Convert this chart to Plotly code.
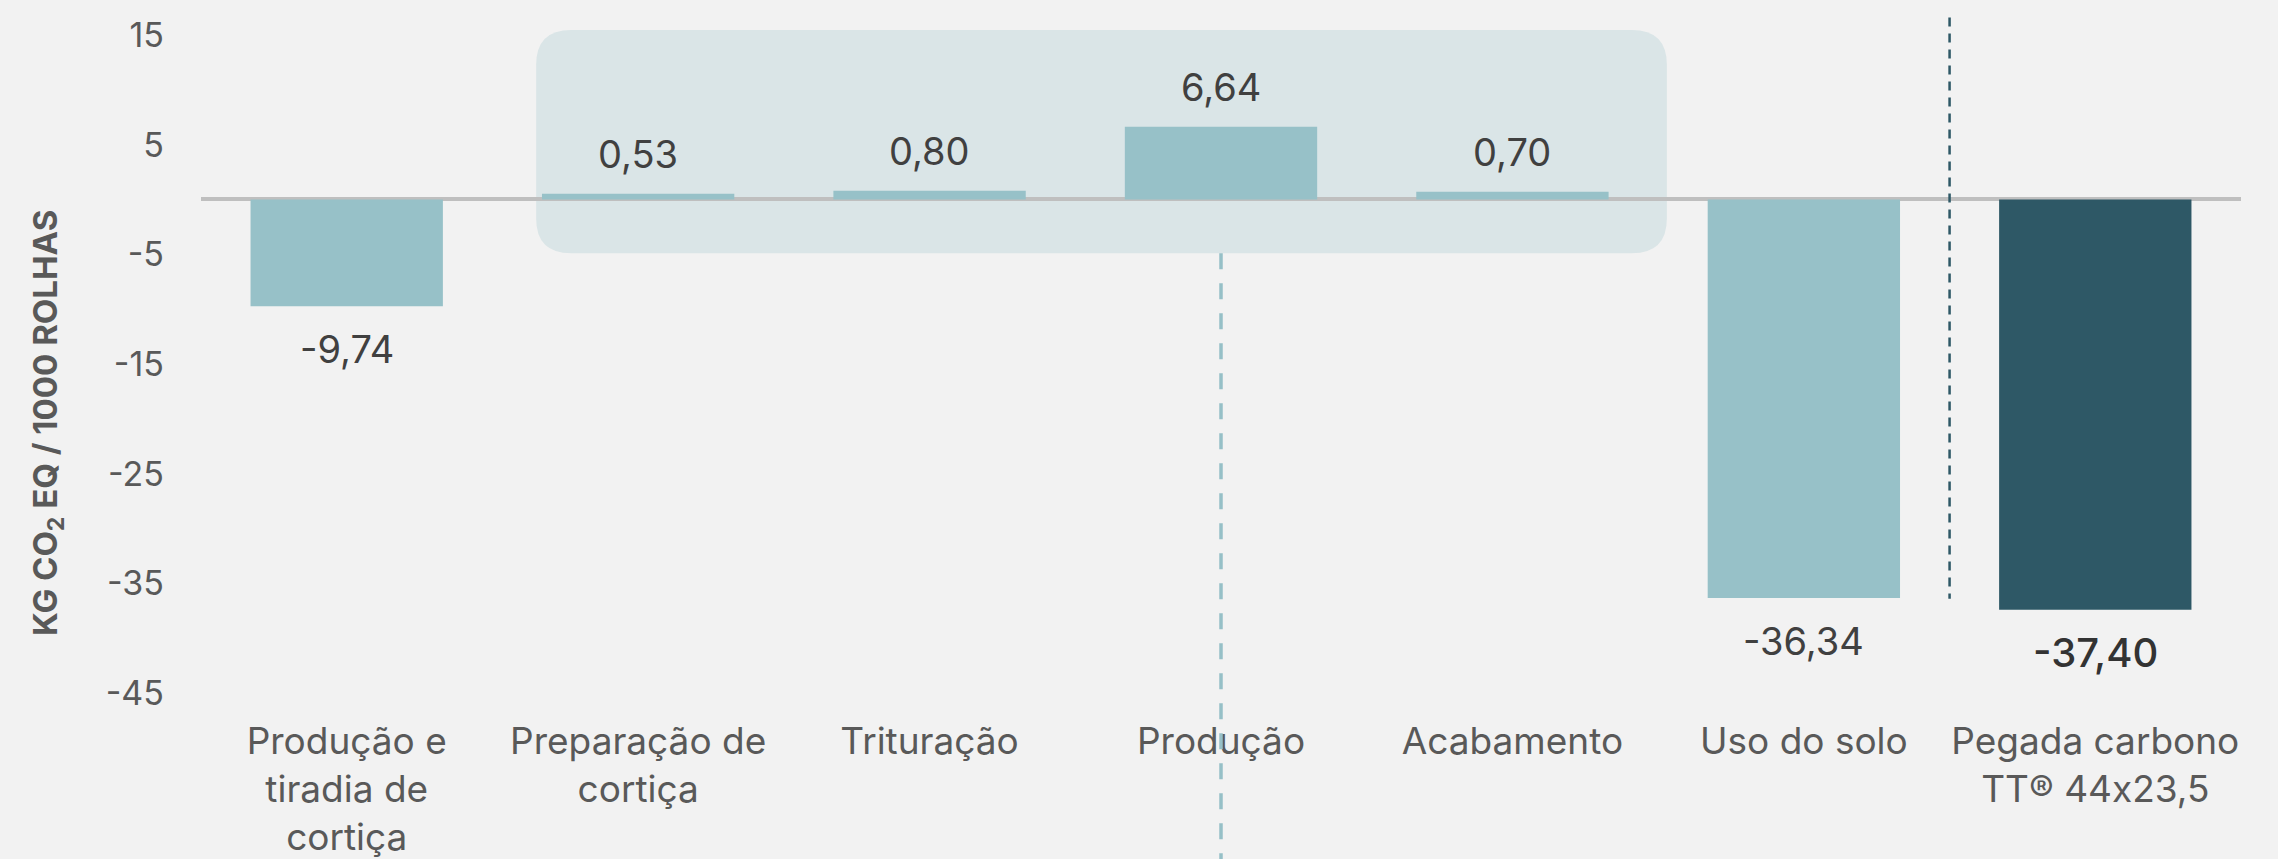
import plotly.graph_objects as go

categories = ["Produção e<br>tiradia de<br>cortiça", "Preparação de<br>cortiça", "Trituração",
              "Produção", "Acabamento", "Uso do solo", "Pegada carbono<br>TT® 44\u200cx\u200c23,5"]
values = [-9.74, 0.53, 0.80, 6.64, 0.70, -36.34, -37.40]
bar_colors = ["#97c1c8"] * 6 + ["#2e5866"]
tick_vals = [-45, -35, -25, -15, -5, 5, 15]
tick_text = ["-45", "-35", "-25", "-15", "-5", "5", "15"]

FONT = "Inter"
X_RANGE = [-0.5, 6.5]
Y_RANGE = [-47, 17]
L, R, T, B = 201, 37, 13, 144
W, H = 2278, 859

def px(xv):
    return (xv - X_RANGE[0]) / (X_RANGE[1] - X_RANGE[0])

def py(yv):
    return (yv - Y_RANGE[0]) / (Y_RANGE[1] - Y_RANGE[0])

idx = list(range(len(categories)))

fig = go.Figure()
fig.add_trace(go.Bar(x=idx, y=values, marker=dict(color=bar_colors, line=dict(width=0)),
                     width=0.66, hoverinfo="skip"))

annotations = []
for i, v in enumerate(values):
    last = i == len(values) - 1
    annotations.append(dict(
        x=i, y=v, xref="x", yref="y", showarrow=False,
        text=f"{v:.2f}".replace(".", ","),
        yshift=40 if v > 0 else -43, yanchor="middle",
        font=dict(family=FONT, size=40 if last else 38, weight=500 if last else 400,
                  color="#333333" if last else "#404040")))

annotations.append(dict(
    xref="paper", yref="paper", x=(47 - L) / (W - L - R), y=(H - B - 423) / (H - T - B),
    text="<b>KG CO<sub>2</sub> EQ / 1000 ROLHAS</b>", textangle=-90, showarrow=False,
    xanchor="center", yanchor="middle",
    font=dict(family=FONT, size=33, color="#595959")))

# rounded highlight box behind the middle stages
x0, x1, y0, y1 = 0.65, 4.53, -4.9, 15.45
rx = 35 / ((W - L - R) / (X_RANGE[1] - X_RANGE[0]))
ry = 35 / ((H - T - B) / (Y_RANGE[1] - Y_RANGE[0]))
path = (f"M {x0+rx},{y1} L {x1-rx},{y1} Q {x1},{y1} {x1},{y1-ry} "
        f"L {x1},{y0+ry} Q {x1},{y0} {x1-rx},{y0} L {x0+rx},{y0} "
        f"Q {x0},{y0} {x0},{y0+ry} L {x0},{y1-ry} Q {x0},{y1} {x0+rx},{y1} Z")

shapes = [
    dict(type="path", path=path, xref="x", yref="y", fillcolor="#dae5e7",
         line=dict(width=0), layer="below"),
    dict(type="line", xref="paper", yref="paper", x0=px(3), x1=px(3),
         y0=py(y0), y1=-0.25, line=dict(color="#96c0c7", width=3.5, dash="16px,14px"),
         layer="above"),
    dict(type="line", xref="paper", yref="paper", x0=px(5.5), x1=px(5.5),
         y0=py(16.6), y1=py(-36.4), line=dict(color="#2e5866", width=2.5, dash="9px,7px"),
         layer="above"),
]

fig.update_layout(
    width=W, height=H,
    margin=dict(l=L, r=R, t=T, b=B, autoexpand=False),
    paper_bgcolor="#f2f2f2", plot_bgcolor="rgba(0,0,0,0)",
    showlegend=False,
    annotations=annotations, shapes=shapes,
    xaxis=dict(range=X_RANGE, tickvals=idx, ticktext=categories, showgrid=False,
               zeroline=False, showline=False, ticks="", ticklabelstandoff=1,
               automargin=False,
               tickfont=dict(family=FONT, size=37, color="#595959")),
    yaxis=dict(range=Y_RANGE, tickvals=tick_vals, ticktext=tick_text, showgrid=False,
               zeroline=True, zerolinecolor="#bfbfbf", zerolinewidth=4, showline=False,
               ticks="", ticklabelstandoff=36, automargin=False,
               tickfont=dict(family=FONT, size=34, color="#595959")),
)

fig.write_html("out.html", config={"displayModeBar": False},
               post_script="document.body.style.margin='0';"
                           "document.body.style.background='#f2f2f2';")
